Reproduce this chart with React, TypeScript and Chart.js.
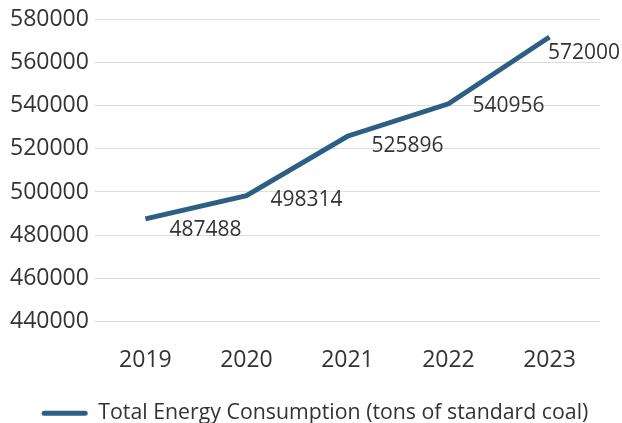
import React, { useEffect, useRef } from "react";
import { Chart, registerables } from "chart.js";

Chart.register(...registerables);

const years = ["2019", "2020", "2021", "2022", "2023"];
const consumption = [487488, 498314, 525896, 540956, 572000];
const seriesName = "Total Energy Consumption (tons of standard coal)";
const lineColor = "#2b5f84";
const FONT = "'Open Sans', 'Noto Sans', sans-serif";

const valueLabels = {
  id: "valueLabels",
  afterDatasetsDraw(chart: any) {
    const ctx = chart.ctx;
    const meta = chart.getDatasetMeta(0);
    ctx.save();
    ctx.font = `21px ${FONT}`;
    ctx.fillStyle = "#333333";
    ctx.textAlign = "left";
    ctx.textBaseline = "middle";
    meta.data.forEach((pt: any, i: number) => {
      const text = String(chart.data.datasets[0].data[i]);
      const w = ctx.measureText(text).width;
      const next = meta.data[i + 1];
      const rise = next ? pt.y - next.y : 0;
      let x = pt.x + 24;
      if (x + w > chart.width - 2) x = chart.width - 2 - w;
      ctx.fillText(text, x, pt.y + 16 - 0.2 * rise);
    });
    ctx.restore();
  },
};

const legendShift = {
  id: "legendShift",
  afterLayout(chart: any) {
    if (chart.legend) {
      chart.legend.left += 13;
      chart.legend.right += 13;
    }
  },
};

export default function App() {
  const ref = useRef<HTMLCanvasElement>(null);
  useEffect(() => {
    document.body.style.margin = "0";
    const chart = new Chart(ref.current!, {
      type: "line",
      data: {
        labels: years,
        datasets: [
          {
            label: seriesName,
            data: consumption,
            borderColor: lineColor,
            backgroundColor: lineColor,
            borderWidth: 5,
            pointRadius: 0,
            tension: 0,
          },
        ],
      },
      options: {
        responsive: false,
        animation: false,
        layout: { padding: { left: 4, right: 22, top: 12, bottom: -11 } },
        scales: {
          x: {
            offset: true,
            grid: { display: false, drawTicks: false },
            border: { display: false },
            ticks: { font: { size: 23, family: FONT }, color: "#333333", padding: 26 },
          },
          y: {
            min: 440000,
            max: 580000,
            grid: { color: "#dddddd", drawTicks: false },
            border: { display: false },
            ticks: {
              stepSize: 20000,
              font: { size: 23, family: FONT },
              color: "#333333",
              padding: 6,
              callback: (v: any) => String(v),
            },
          },
        },
        plugins: {
          tooltip: { enabled: false },
          legend: {
            position: "bottom",
            labels: {
              font: { size: 21.3, family: FONT },
              color: "#333333",
              boxWidth: 46,
              boxHeight: 5,
              useBorderRadius: true,
              borderRadius: 2.5,
              padding: 2,
              generateLabels(chart: any) {
                const items = Chart.defaults.plugins.legend.labels.generateLabels(chart);
                return items.map((it: any) => ({ ...it, lineWidth: 0, fillStyle: lineColor, strokeStyle: lineColor }));
              },
            },
          },
        },
      },
      plugins: [valueLabels, legendShift],
    });
    return () => chart.destroy();
  }, []);
  return (
    <div style={{ width: 622, height: 423 }}>
      <canvas ref={ref} width={622} height={423} />
    </div>
  );
}
